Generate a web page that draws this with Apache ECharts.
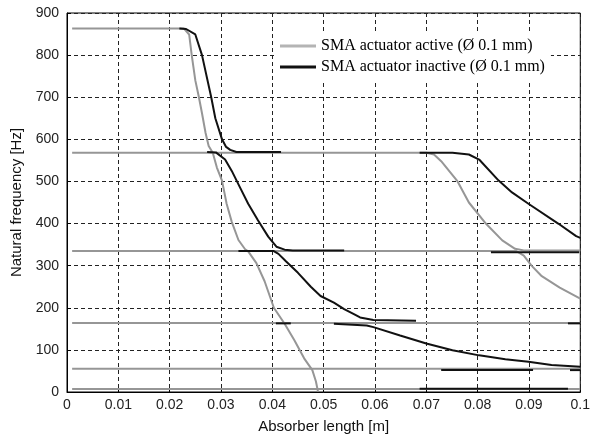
<!DOCTYPE html>
<html>
<head>
<meta charset="utf-8">
<script src="https://cdn.jsdelivr.net/npm/echarts@6/dist/echarts.min.js"></script>
<style>
html, body { margin: 0; background: #fff; }
#chart { width: 593px; height: 439px; }
</style>
</head>
<body>
<div id="chart"></div>
<script>
var activeName = 'SMA actuator active (Ø 0.1 mm)'
var inactiveName = 'SMA actuator inactive (Ø 0.1 mm)'

// actuator active (gray) - [absorber length m, natural frequency Hz]
var active1 = [[0.001, 863], [0.0228, 863], [0.0238, 849], [0.0243, 800], [0.025, 740], [0.0257, 700],
	[0.0263, 662], [0.027, 615], [0.0276, 584], [0.0284, 568], [0.0292, 533], [0.0302, 502],
	[0.0311, 447], [0.0321, 404], [0.0334, 361], [0.0347, 339], [0.0353, 334], [0.0369, 306],
	[0.0385, 263], [0.0403, 200], [0.0424, 162], [0.0443, 123], [0.0462, 80], [0.0478, 52],
	[0.0485, 25], [0.0489, 1]]
var active2 = [[0.001, 568], [0.07, 568], [0.0715, 564], [0.0729, 548], [0.0761, 500], [0.0783, 450],
	[0.0816, 400], [0.0848, 360], [0.0873, 340], [0.089, 336], [0.1, 336]]
var active3 = [[0.001, 335], [0.0875, 335], [0.089, 324], [0.0905, 300], [0.0925, 275], [0.096, 248], [0.1, 222]]
var active4 = [[0.001, 164], [0.1, 164]]
var active5 = [[0.001, 55], [0.1, 55]]
var active6 = [[0.001, 7], [0.1, 7]]

// actuator inactive (black)
var inactive1 = [[0.0219, 863], [0.0232, 862], [0.025, 849], [0.0263, 800], [0.0281, 700], [0.0289, 650],
	[0.0302, 600], [0.031, 582], [0.0318, 575], [0.033, 570], [0.0417, 570]]
var inactive2 = [[0.0273, 570], [0.029, 569], [0.0308, 552], [0.0321, 525], [0.0337, 486], [0.0353, 447],
	[0.0372, 408], [0.0392, 369], [0.0408, 345], [0.0424, 338], [0.044, 336], [0.054, 336]]
var inactive3 = [[0.0334, 335], [0.0402, 335], [0.0412, 328], [0.0427, 310], [0.045, 283], [0.0475, 250],
	[0.0494, 228], [0.052, 212], [0.054, 197], [0.0559, 185], [0.0571, 177], [0.0597, 171], [0.068, 169]]
var inactive4 = [[0.052, 162], [0.0584, 158], [0.0597, 154], [0.0649, 134], [0.07, 115], [0.0751, 99],
	[0.0803, 87], [0.0854, 78], [0.0899, 72], [0.0944, 64], [0.1, 60]]
var inactive5 = [[0.0687, 568], [0.0751, 568], [0.0783, 564], [0.0803, 552], [0.0841, 502], [0.0867, 474],
	[0.0899, 447], [0.0957, 400], [0.0992, 370], [0.1, 366]]
var inactive6 = [[0.0826, 332], [0.0998, 332]]
var inactive7 = [[0.0407, 163], [0.0436, 163]]
var inactive8 = [[0.0976, 163], [0.1, 163]]
var inactive9 = [[0.0729, 52], [0.0908, 52]]
var inactive10 = [[0.098, 52], [0.1, 52]]
var inactive11 = [[0.0687, 8], [0.0976, 8]]

var activeLines = [active1, active2, active3, active4, active5, active6]
var inactiveLines = [inactive1, inactive2, inactive3, inactive4, inactive5, inactive6,
	inactive7, inactive8, inactive9, inactive10, inactive11]

var chart = echarts.init(document.getElementById('chart'))

function line(name, data, color, width) {
	return {
		name: name,
		type: 'line',
		data: data,
		symbol: 'none',
		silent: true,
		lineStyle: { color: color, width: width },
		itemStyle: { color: color }
	}
}

var series = []
activeLines.forEach(function(d) {
	series.push(line(activeName, d, '#969696', 2))
})
inactiveLines.forEach(function(d) {
	series.push(line(inactiveName, d, '#111', 2))
})

var dash = { color: '#222', type: [4, 3], width: 1 }
var sans = 'Liberation Sans'

var option = {
	animation: false,
	backgroundColor: '#fff',
	grid: {
		left: 67, right: 8, top: 13, bottom: 42,
		show: true, borderColor: '#000', borderWidth: 1
	},
	legend: {
		data: [
			{ name: activeName, itemStyle: { color: '#b4b4b4' } },
			{ name: inactiveName }
		],
		orient: 'vertical',
		left: 275, top: 32,
		icon: 'rect',
		itemWidth: 36, itemHeight: 3, itemGap: 5,
		selectedMode: false,
		backgroundColor: '#fff',
		padding: [6, 6, 6, 5],
		textStyle: { fontFamily: 'Liberation Serif', fontSize: 16, color: '#000' }
	},
	xAxis: {
		type: 'value',
		min: 0, max: 0.1, interval: 0.01,
		name: 'Absorber length [m]',
		nameLocation: 'middle',
		nameGap: 27,
		nameTextStyle: { fontFamily: sans, fontSize: 15, color: '#111' },
		axisLine: { lineStyle: { color: '#000' } },
		axisTick: { inside: true, length: 4, lineStyle: { color: '#000' } },
		axisLabel: {
			fontFamily: sans, fontSize: 14, color: '#222', margin: 6,
			formatter: function(v) { return String(parseFloat(v.toFixed(2))) }
		},
		splitLine: { show: true, lineStyle: dash }
	},
	yAxis: {
		type: 'value',
		min: 0, max: 900, interval: 100,
		name: 'Natural frequency [Hz]',
		nameLocation: 'middle',
		nameGap: 42,
		nameTextStyle: { fontFamily: sans, fontSize: 15, color: '#111' },
		axisLine: { show: true, lineStyle: { color: '#000' } },
		axisTick: { show: true, inside: true, length: 4, lineStyle: { color: '#000' } },
		axisLabel: { fontFamily: sans, fontSize: 14, color: '#222', margin: 8 },
		splitLine: { show: true, lineStyle: dash }
	},
	series: series
}

chart.setOption(option)
</script>
</body>
</html>
